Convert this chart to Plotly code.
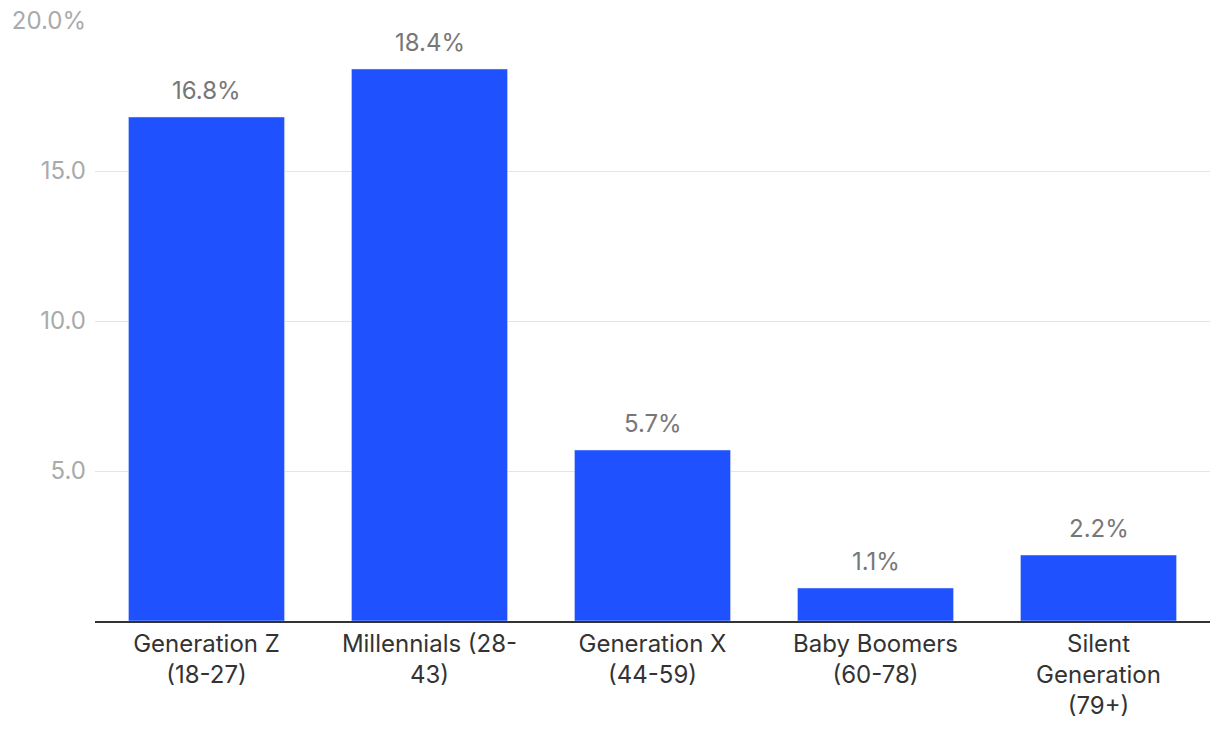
import plotly.graph_objects as go

categories = ["Generation Z<br>(18-27)", "Millennials (28-<br>43)", "Generation X<br>(44-59)",
              "Baby Boomers<br>(60-78)", "Silent<br>Generation<br>(79+)"]
values = [16.8, 18.4, 5.7, 1.1, 2.2]
bar_labels = ["16.8%", "18.4%", "5.7%", "1.1%", "2.2%"]
y_tickvals = [5, 10, 15, 20]
y_ticktext = ["5.0", "10.0", "15.0", "20.0%"]

fig = go.Figure(go.Bar(
    x=categories, y=values,
    marker=dict(color="#1f51ff"), cliponaxis=False, hoverinfo="x+y",
))
for c, v, t in zip(categories, values, bar_labels):
    fig.add_annotation(x=c, y=v, text=t, showarrow=False, yanchor="bottom",
                       yshift=10, font=dict(family="Inter", size=24, color="#777777"))

fig.update_layout(
    width=1220, height=732,
    margin=dict(l=87, r=18, t=13, b=119),
    paper_bgcolor="white", plot_bgcolor="white",
    bargap=0.30, showlegend=False,
    font=dict(family="Inter", size=24, color="#333333"),
)
fig.update_xaxes(showline=True, linecolor="#333333", linewidth=2, ticks="",
                 tickfont=dict(family="Inter", size=24, color="#333333"),
                 ticklabeloverflow="allow", automargin=False)
fig.update_yaxes(range=[0, 20], tickvals=y_tickvals, ticktext=y_ticktext,
                 showgrid=True, gridcolor="#e5e5e5", gridwidth=1, zeroline=False,
                 tickfont=dict(family="Inter", size=24, color="#aaaaaa"), ticklabelstandoff=8,
                 ticklabeloverflow="allow", automargin=False)
fig.write_html("out.html")
